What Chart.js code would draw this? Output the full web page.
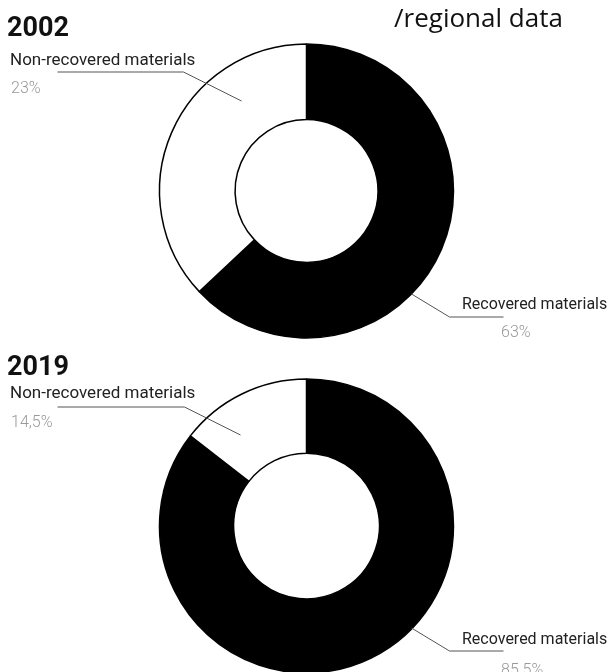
<!DOCTYPE html>
<html>
<head>
<meta charset="utf-8">
<script src="https://cdn.jsdelivr.net/npm/chart.js@4"></script>
<style>
  body { margin: 0; background: #fff; font-family: Roboto, "Noto Sans", sans-serif; }
  #page { position: relative; width: 613px; height: 672px; overflow: hidden; }
  canvas { position: absolute; left: 0; }
  .t { position: absolute; white-space: nowrap; line-height: 1; }
  .year { font-size: 27px; font-weight: 700; color: #111; }
  .head { font-family: "Open Sans", sans-serif; font-size: 26px; color: #111; }
  .lbl { font-size: 17px; color: #222; }
  .lbl.r { font-size: 16px; }
  .pct { font-size: 16px; font-weight: 300; color: #999; }
</style>
</head>
<body>
<div id="page">
  <canvas id="chart2002" width="613" height="340" style="top:0"></canvas>
  <canvas id="chart2019" width="613" height="332" style="top:340px"></canvas>

  <div class="t year" style="left:7px; top:14px">2002</div>
  <div class="t head" style="left:394px; top:4px">/regional data</div>
  <div class="t lbl" id="nr2002" style="left:10px; top:51px"></div>
  <div class="t pct" id="nrp2002" style="left:11px; top:80px"></div>
  <div class="t lbl r" id="r2002" style="left:462px; top:296px"></div>
  <div class="t pct" id="rp2002" style="left:501px; top:324px"></div>

  <div class="t year" style="left:7px; top:353px">2019</div>
  <div class="t lbl" id="nr2019" style="left:10px; top:384px"></div>
  <div class="t pct" id="nrp2019" style="left:11px; top:414px"></div>
  <div class="t lbl r" id="r2019" style="left:462px; top:631px"></div>
  <div class="t pct" id="rp2019" style="left:501px; top:662px"></div>
</div>

<script>
const categories = ['Recovered materials', 'Non-recovered materials'];
const values2002 = [63, 37];
const values2019 = [85.5, 14.5];
const pctLabels2002 = ['63%', '23%'];
const pctLabels2019 = ['85.5%', '14,5%'];
const sliceColors = ['#000000', '#ffffff'];

// label texts
document.getElementById('r2002').textContent = categories[0];
document.getElementById('nr2002').textContent = categories[1];
document.getElementById('rp2002').textContent = pctLabels2002[0];
document.getElementById('nrp2002').textContent = pctLabels2002[1];
document.getElementById('r2019').textContent = categories[0];
document.getElementById('nr2019').textContent = categories[1];
document.getElementById('rp2019').textContent = pctLabels2019[0];
document.getElementById('nrp2019').textContent = pctLabels2019[1];

// leader lines, points relative to the doughnut centre
const leaders = {
  chart2002: [
    [[-249, -119], [-123, -119], [-65, -90]],
    [[105, 103], [143, 126], [197, 126]]
  ],
  chart2019: [
    [[-249, -119], [-122, -119], [-66, -91]],
    [[105, 102], [143, 125], [197, 125]]
  ]
};

const leaderPlugin = {
  id: 'leaders',
  afterDatasetsDraw(chart) {
    const arc = chart.getDatasetMeta(0).data[0];
    const ctx = chart.ctx;
    ctx.save();
    ctx.strokeStyle = '#555';
    ctx.lineWidth = 1;
    leaders[chart.canvas.id].forEach(pts => {
      ctx.beginPath();
      pts.forEach((p, i) => {
        const x = arc.x + p[0], y = arc.y + p[1];
        if (i === 0) ctx.moveTo(x, y); else ctx.lineTo(x, y);
      });
      ctx.stroke();
    });
    ctx.restore();
  }
};

function makeDonut(id, values, padTop) {
  new Chart(document.getElementById(id).getContext('2d'), {
    type: 'doughnut',
    data: {
      labels: categories,
      datasets: [{
        data: values,
        backgroundColor: sliceColors,
        borderColor: '#000',
        borderWidth: 1.5,
        hoverOffset: 0,
        clip: false
      }]
    },
    options: {
      responsive: false,
      animation: false,
      radius: 147,
      cutout: 72,
      layout: { padding: { top: padTop } },
      plugins: { legend: { display: false }, tooltip: { enabled: false } }
    },
    plugins: [leaderPlugin]
  });
}

makeDonut('chart2002', values2002, 42);
makeDonut('chart2019', values2019, 40);
</script>
</body>
</html>
